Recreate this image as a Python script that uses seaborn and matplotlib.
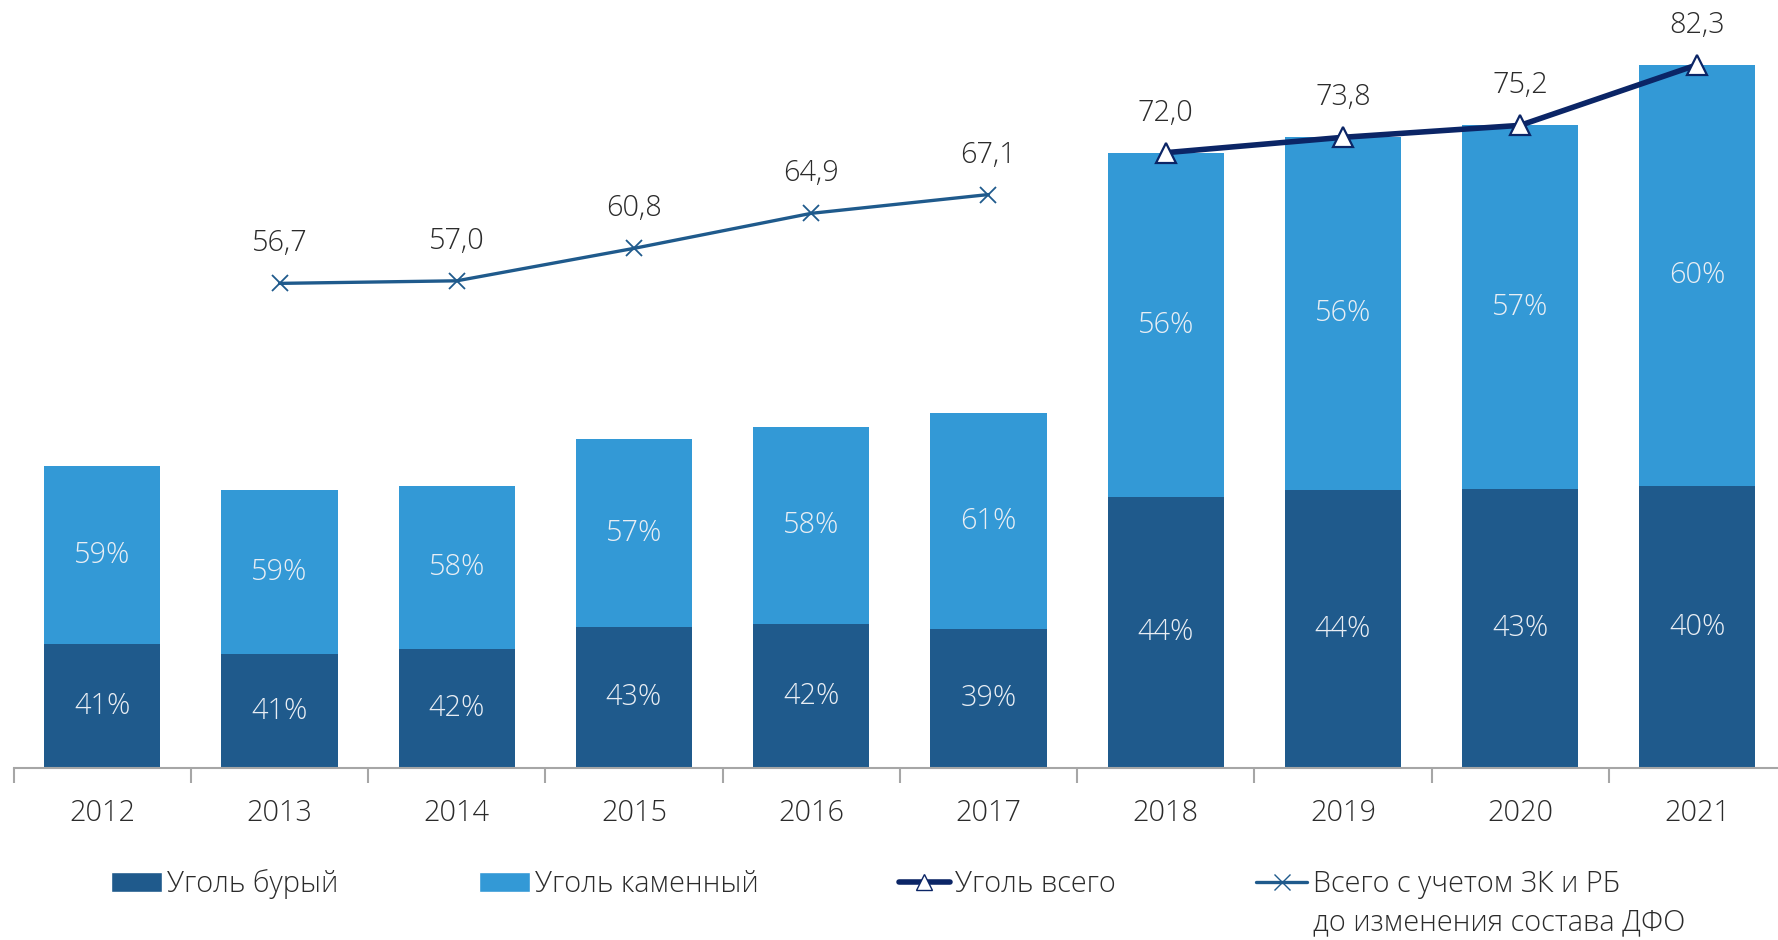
import numpy as np
import matplotlib.pyplot as plt
import seaborn as sns
from matplotlib.patches import Patch
from matplotlib.lines import Line2D

# Data (values in mln t)
years = [2012, 2013, 2014, 2015, 2016, 2017, 2018, 2019, 2020, 2021]
brown = [14.5, 13.3, 13.9, 16.5, 16.8, 16.2, 31.7, 32.5, 32.6, 33.0]
hard = [20.8, 19.2, 19.1, 22.0, 23.1, 25.3, 40.3, 41.3, 42.6, 49.3]
brown_pct = [41, 41, 42, 43, 42, 39, 44, 44, 43, 40]
hard_pct = [59, 59, 58, 57, 58, 61, 56, 56, 57, 60]

total_years = [2018, 2019, 2020, 2021]
total_vals = [72.0, 73.8, 75.2, 82.3]
old_years = [2013, 2014, 2015, 2016, 2017]
old_vals = [56.7, 57.0, 60.8, 64.9, 67.1]

dark = '#1f5a8c'
light = '#3399d6'
navy = '#0b2566'
text_col = '#2b2b2b'
fs = 20.8

sns.set_style('white')
plt.rcParams['font.family'] = ['Open Sans', 'DejaVu Sans']
plt.rcParams['font.weight'] = 'light'

fig = plt.figure(figsize=(17.78, 9.40), dpi=100)
ax = fig.add_axes([0.0077, 0.1833, 0.9968, 0.7724])

labels = [str(y) for y in years]
totals = [b + h for b, h in zip(brown, hard)]
sns.barplot(x=labels, y=totals, color=light, saturation=1, width=0.655, linewidth=0, ax=ax)
sns.barplot(x=labels, y=brown, color=dark, saturation=1, width=0.655, linewidth=0, ax=ax)

# percentage labels in the middle of each segment
for i in range(len(years)):
    ax.text(i, brown[i] / 2, f'{brown_pct[i]}%', ha='center', va='center',
            color='#e9eef4', fontsize=fs)
    ax.text(i, brown[i] + hard[i] / 2, f'{hard_pct[i]}%', ha='center', va='center',
            color='#e9eef4', fontsize=fs)

# lines
xo = [years.index(y) for y in old_years]
sns.lineplot(x=xo, y=old_vals, color=dark, lw=2.4, marker='x', markersize=11,
             markeredgewidth=1.3, markeredgecolor=dark, ax=ax)
xt = [years.index(y) for y in total_years]
sns.lineplot(x=xt, y=total_vals, color=navy, lw=4, marker='^', markersize=15,
             markerfacecolor='white', markeredgecolor=navy, markeredgewidth=1.6, ax=ax)

for x, v in zip(xo + xt, old_vals + total_vals):
    ax.annotate(f'{v:.1f}'.replace('.', ','), (x, v), xytext=(0, 18),
                textcoords='offset points', ha='center', va='bottom',
                fontsize=fs, color=text_col, annotation_clip=False)

ax.set_xlim(-0.5, len(years) - 0.5)
ax.set_ylim(0, 85)
ax.set_yticks([])
for s in ['top', 'right', 'left']:
    ax.spines[s].set_visible(False)
ax.spines['bottom'].set_color('#a6a6a6')
ax.spines['bottom'].set_linewidth(1.5)
ax.set_xticks(np.arange(-0.5, len(years), 1), minor=True)
ax.tick_params(axis='x', which='minor', bottom=True, length=11, width=1.5,
               color='#a6a6a6', direction='out')
ax.tick_params(axis='x', which='major', length=0, pad=22, labelsize=fs, labelcolor=text_col)
ax.set_xlabel('')

handles = [
    Patch(facecolor=dark, label='Уголь бурый'),
    Patch(facecolor=light, label='Уголь каменный'),
    Line2D([], [], color=navy, lw=4, marker='^', markersize=11, markerfacecolor='white',
           markeredgecolor=navy, label='Уголь всего'),
    Line2D([], [], color=dark, lw=2.4, marker='x', markersize=11, markeredgecolor=dark,
           label='Всего с учетом ЗК и РБ'),
]
leg = fig.legend(handles=handles, loc='center left', bbox_to_anchor=(0.0625, 0.0595),
                 ncol=4, frameon=False, fontsize=fs, handlelength=1.75, handleheight=0.7,
                 handletextpad=0.2, columnspacing=4.85, borderpad=0, borderaxespad=0)
for t in leg.get_texts():
    t.set_color(text_col)

fig.canvas.draw()
bb = leg.get_texts()[3].get_window_extent().transformed(fig.transFigure.inverted())
fig.text(bb.x0, 0.019, 'до изменения состава ДФО', ha='left', va='center',
         fontsize=fs, color=text_col)

fig.savefig('out.png', dpi=100)
